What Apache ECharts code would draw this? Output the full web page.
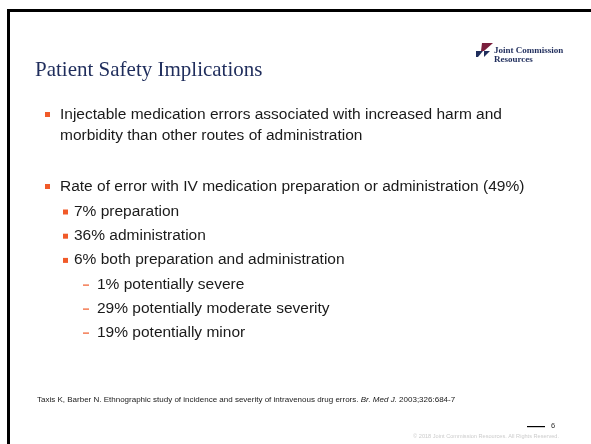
<!DOCTYPE html>
<html><head><meta charset="utf-8">
<script src="https://cdn.jsdelivr.net/npm/echarts@6/dist/echarts.min.js"></script>
<style>html,body{margin:0;padding:0;background:#fff}#c{width:591px;height:444px}</style>
</head><body><div id="c"></div>
<script>
var titleText = 'Patient Safety Implications';
var logoLines = ['Joint Commission', 'Resources'];
var mainBullets = [
  ['Injectable medication errors associated with increased harm and', 'morbidity than other routes of administration'],
  ['Rate of error with IV medication preparation or administration (49%)']
];
var subBullets = ['7% preparation', '36% administration', '6% both preparation and administration'];
var dashItems = ['1% potentially severe', '29% potentially moderate severity', '19% potentially minor'];
var citationParts = ['Taxis K, Barber N. Ethnographic study of incidence and severity of intravenous drug errors. ', 'Br. Med J.', ' 2003;326:684-7'];
var pageNumber = '6';
var copyrightText = '\u00a9 2018 Joint Commission Resources. All Rights Reserved.';

var chart = echarts.init(document.getElementById('c'), null, {renderer: 'canvas'});
var ORANGE = '#F15A29', NAVY = '#1F2D5C', MAROON = '#7A1F3D', TXT = '#1a1a1a';
var BODY = '"Liberation Sans", Arial, sans-serif';
var FS = '15.5px ';
var g = [];
// frame
g.push({type: 'rect', shape: {x: 8.5, y: 10.5, width: 700, height: 500}, style: {fill: 'none', stroke: '#000', lineWidth: 3}});
// title
g.push({type: 'text', x: 35, y: 70, style: {text: titleText, font: '21px "Liberation Serif", serif', fill: NAVY, verticalAlign: 'middle'}});
// logo
g.push({type: 'polygon', shape: {points: [[482,43],[493,43],[484,51],[481,51]]}, style: {fill: MAROON}});
g.push({type: 'polygon', shape: {points: [[476,51],[483,51],[478,57],[476,57]]}, style: {fill: NAVY}});
g.push({type: 'polygon', shape: {points: [[484,51],[490,51],[484,57]]}, style: {fill: NAVY}});
g.push({type: 'text', x: 494, y: 51, style: {text: logoLines[0], font: 'bold 9px "Liberation Serif", serif', fill: NAVY, verticalAlign: 'middle'}});
g.push({type: 'text', x: 494, y: 60, style: {text: logoLines[1], font: 'bold 9px "Liberation Serif", serif', fill: NAVY, verticalAlign: 'middle'}});
// main bullets
var mainY = [115, 187];
mainBullets.forEach(function (lines, i) {
  var y = mainY[i];
  g.push({type: 'rect', shape: {x: 45, y: y - 3, width: 5, height: 5}, style: {fill: ORANGE}});
  lines.forEach(function (t, j) {
    g.push({type: 'text', x: 60, y: y + j * 20.5, style: {text: t, font: FS + BODY, fill: TXT, verticalAlign: 'middle'}});
  });
});
subBullets.forEach(function (t, i) {
  var y = 211.5 + i * 24.2;
  g.push({type: 'rect', shape: {x: 63, y: y - 2, width: 5, height: 5}, style: {fill: ORANGE}});
  g.push({type: 'text', x: 74, y: y, style: {text: t, font: FS + BODY, fill: TXT, verticalAlign: 'middle'}});
});
dashItems.forEach(function (t, i) {
  var y = 284.5 + i * 24;
  g.push({type: 'rect', shape: {x: 83, y: y, width: 6, height: 1.2}, style: {fill: ORANGE}});
  g.push({type: 'text', x: 97, y: y, style: {text: t, font: FS + BODY, fill: TXT, verticalAlign: 'middle'}});
});
// citation
g.push({type: 'text', x: 37, y: 400, style: {
  text: '{n|' + citationParts[0] + '}{i|' + citationParts[1] + '}{n|' + citationParts[2] + '}',
  verticalAlign: 'middle',
  rich: {n: {font: '8px ' + BODY, fill: TXT}, i: {font: 'italic 8px ' + BODY, fill: TXT}}
}});
// page number
g.push({type: 'rect', shape: {x: 527, y: 426, width: 18, height: 1.2}, style: {fill: '#000'}});
g.push({type: 'text', x: 551, y: 426, style: {text: pageNumber, font: '7.5px ' + BODY, fill: '#333', verticalAlign: 'middle'}});
g.push({type: 'text', x: 559, y: 436, style: {text: copyrightText, font: '5.6px ' + BODY, fill: '#cccccc', align: 'right', verticalAlign: 'middle'}});

chart.setOption({animation: false, backgroundColor: '#fff', graphic: {elements: g}});
</script></body></html>
